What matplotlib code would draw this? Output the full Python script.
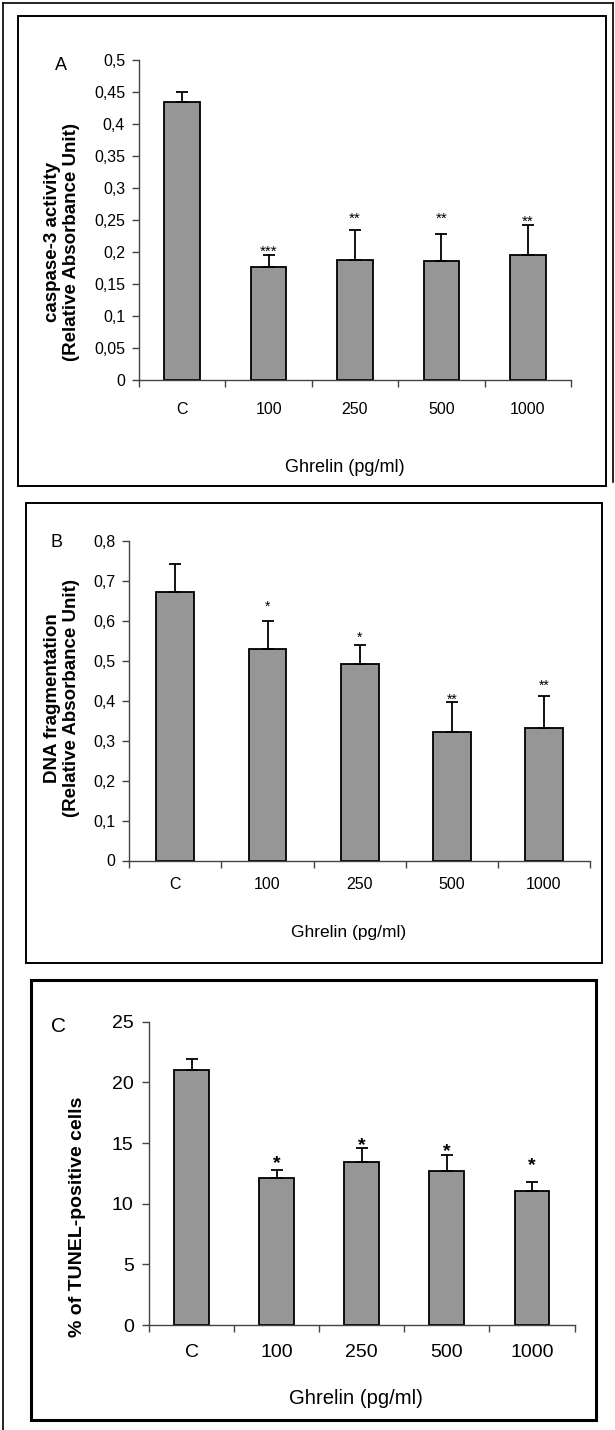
import numpy as np
import matplotlib
matplotlib.use("Agg")
import matplotlib.pyplot as plt
from matplotlib.patches import Rectangle
from matplotlib.lines import Line2D

plt.rcParams['font.family'] = ['Liberation Sans', 'DejaVu Sans']

# ---------------- data ----------------
categories = ['C', '100', '250', '500', '1000']

a_mean = [0.435, 0.176, 0.188, 0.186, 0.195]
a_err = [0.015, 0.020, 0.047, 0.042, 0.047]
a_stars = ['', '***', '**', '**', '**']

b_mean = [0.673, 0.530, 0.493, 0.323, 0.331]
b_err = [0.069, 0.070, 0.046, 0.073, 0.080]
b_stars = ['', '*', '*', '**', '**']

c_mean = [21.0, 12.1, 13.4, 12.7, 11.05]
c_err = [0.9, 0.7, 1.2, 1.3, 0.75]
c_stars = ['', '*', '*', '*', '*']

xlabel_text = 'Ghrelin (pg/ml)'
a_ylabel = 'caspase-3 activity\n(Relative Absorbance Unit)'
b_ylabel = 'DNA fragmentation\n(Relative Absorbance Unit)'
c_ylabel = '% of TUNEL-positive cells'

# ---------------- layout (pixels) ----------------
W, H = 615, 1430
fig = plt.figure(figsize=(W / 100, H / 100), dpi=100)
fig.patch.set_facecolor('white')


def add_ax(left, right, top, bottom):
    return fig.add_axes([left / W, 1 - bottom / H, (right - left) / W, (bottom - top) / H])


def box(x0, y0, x1, y1, lw):
    fig.add_artist(Rectangle((x0 / W, 1 - y1 / H), (x1 - x0) / W, (y1 - y0) / H,
                             transform=fig.transFigure, fill=False, edgecolor='black',
                             linewidth=lw))


def line(xs, ys, lw):
    fig.add_artist(Line2D([x / W for x in xs], [1 - y / H for y in ys],
                          transform=fig.transFigure, color='black', linewidth=lw))


# outer frame (partial)
line([3, 3], [3, 1430], 1.2)
line([3, 613], [3, 3], 1.2)
line([613, 613], [3, 482], 1.2)

# panel boxes
box(18, 16, 606, 486, 1.4)
box(25.5, 503, 602, 963, 1.4)
box(30.6, 980, 596, 1420, 2.2)


def fmt(v):
    s = f"{v:g}"
    return s.replace('.', ',')


def panel(ax, mean, err, stars, star_y, ymax, ystep, tick_fs, star_fs, star_bold,
          xpad, ypad, barw):
    n = len(mean)
    x = np.arange(n) + 0.5
    ax.bar(x, mean, width=barw, color='#969696', edgecolor='black', linewidth=1.3, zorder=2)
    ax.errorbar(x, mean, yerr=[np.zeros(n), err], fmt='none', ecolor='black',
                elinewidth=1.3, capsize=4.3, capthick=1.3, zorder=3)
    ax.set_xlim(0, n)
    ax.set_ylim(0, ymax)
    yt = np.round(np.arange(0, ymax + ystep / 2, ystep), 4)
    ax.set_yticks(yt)
    ax.set_yticklabels([fmt(v) for v in yt], fontsize=tick_fs)
    ax.set_xticks(np.arange(n + 1))
    ax.set_xticklabels([])
    ax.set_xticks(x, minor=True)
    ax.set_xticklabels(categories, minor=True, fontsize=tick_fs)
    ax.tick_params(axis='x', which='major', length=5, width=1, color='#444444', direction='out')
    ax.tick_params(axis='x', which='minor', length=0, pad=xpad)
    ax.tick_params(axis='y', length=5, width=1, color='#444444', direction='out', pad=ypad)
    for s in ['top', 'right']:
        ax.spines[s].set_visible(False)
    for s in ['left', 'bottom']:
        ax.spines[s].set_color('#444444')
        ax.spines[s].set_linewidth(1.0)
    ax.set_facecolor('none')
    for xi, st, sy in zip(x, stars, star_y):
        if st:
            ax.annotate(st, xy=(xi, sy), xytext=(0, -0.57 * star_fs), textcoords='offset points',
                        ha='center', va='baseline', fontsize=star_fs,
                        fontweight='bold' if star_bold else 'normal')


# star label positions (centre heights in data units)
a_star_y = [0, 0.208, 0.260, 0.260, 0.255]
b_star_y = [0, 0.645, 0.568, 0.413, 0.448]
c_star_y = [0, 13.84, 15.3, 14.8, 13.7]

axA = add_ax(139, 571, 60, 380)
panel(axA, a_mean, a_err, a_stars, a_star_y, 0.5, 0.05, 11.5, 11, False, 15.5, 5, 0.41)
axB = add_ax(129.3, 590, 541, 860.5)
panel(axB, b_mean, b_err, b_stars, b_star_y, 0.8, 0.1, 11.5, 10, False, 12, 5, 0.41)
axC = add_ax(149, 574.5, 1021.7, 1325)
panel(axC, c_mean, c_err, c_stars, c_star_y, 25, 5, 14, 14, True, 14, 6, 0.41)

# panel letters
fig.text(61 / W, 1 - 65 / H, 'A', fontsize=13, ha='center', va='center')
fig.text(56 / W, 1 - 542 / H, 'B', fontsize=13, ha='center', va='center')
fig.text(59 / W, 1 - 1027 / H, 'C', fontsize=15, ha='center', va='center')

# y labels
fig.text(62 / W, 1 - 242 / H, a_ylabel, rotation=90, fontsize=13.5, fontweight='bold',
         ha='center', va='center', linespacing=1.15, multialignment='center')
fig.text(62 / W, 1 - 698 / H, b_ylabel, rotation=90, fontsize=13.5, fontweight='bold',
         ha='center', va='center', linespacing=1.15, multialignment='center')
fig.text(78 / W, 1 - 1217 / H, c_ylabel, rotation=90, fontsize=14, fontweight='bold',
         ha='center', va='center')

# x labels
fig.text(345 / W, 1 - 468 / H, xlabel_text, fontsize=13, ha='center', va='center')
fig.text(349 / W, 1 - 932 / H, xlabel_text, fontsize=12.5, ha='center', va='center')
fig.text(356 / W, 1 - 1399 / H, xlabel_text, fontsize=14.6, ha='center', va='center')

fig.savefig('out.png', dpi=100, facecolor='white')
